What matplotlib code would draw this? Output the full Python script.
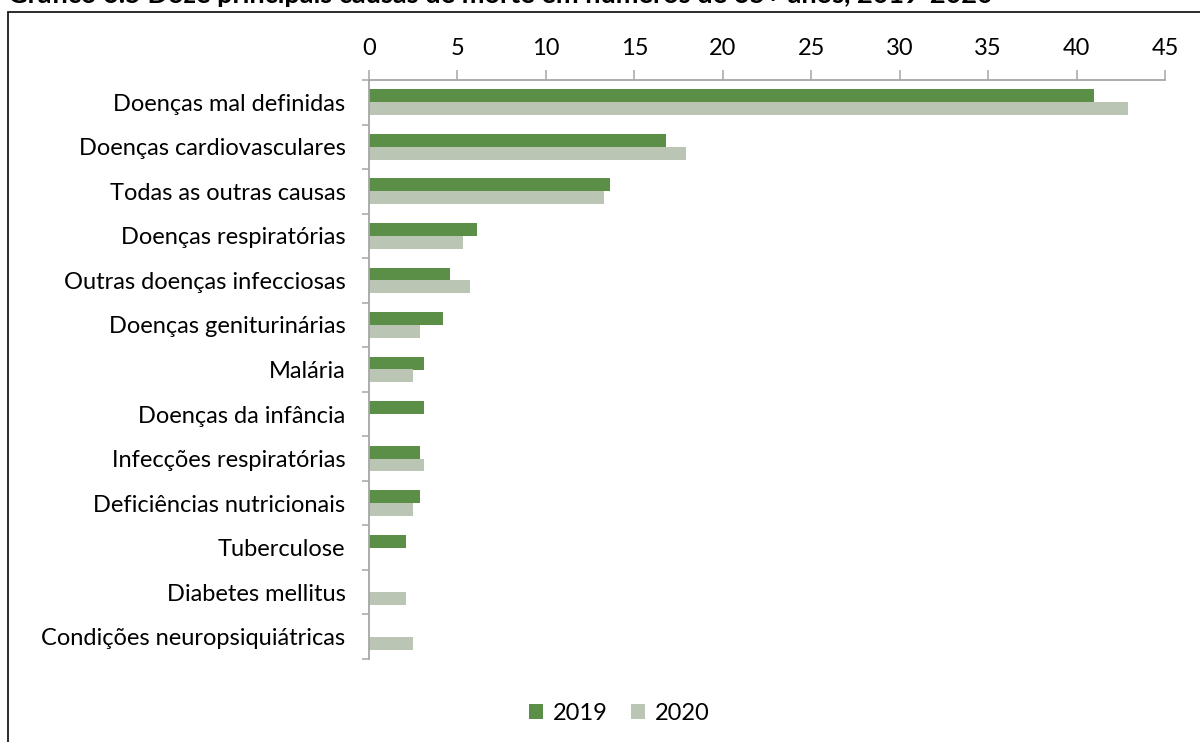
import numpy as np
import matplotlib.pyplot as plt
from matplotlib.patches import Rectangle

plt.rcParams['font.family'] = ['Lato', 'DejaVu Sans']

categories = [
    "Doenças mal definidas",
    "Doenças cardiovasculares",
    "Todas as outras causas",
    "Doenças respiratórias",
    "Outras doenças infecciosas",
    "Doenças geniturinárias",
    "Malária",
    "Doenças da infância",
    "Infecções respiratórias",
    "Deficiências nutricionais",
    "Tuberculose",
    "Diabetes mellitus",
    "Condições neuropsiquiátricas",
]
values_2019 = [41.0, 16.8, 13.6, 6.1, 4.6, 4.2, 3.1, 3.1, 2.9, 2.9, 2.1, None, None]
values_2020 = [42.9, 17.9, 13.3, 5.3, 5.7, 2.9, 2.5, None, 3.1, 2.5, None, 2.1, 2.5]
series_labels = ["2019", "2020"]
x_ticks = [0, 5, 10, 15, 20, 25, 30, 35, 40, 45]
title = "Gráfico 6.5 Doze principais causas de morte em números de 65+ anos, 2019-2020"

green = "#5B8F47"
sage = "#BAC6B3"
axis_grey = "#A6A6A6"
fs = 17

W, H = 1200, 742
fig = plt.figure(figsize=(W / 100, H / 100), dpi=100)

# outer frame (runs off the right and bottom edges)
fig.patches.append(Rectangle((8 / W, -0.05), 1.2, 1 - 12 / H + 0.05,
                             transform=fig.transFigure, fill=False,
                             edgecolor="#1a1a1a", linewidth=1.3))
fig.text(8 / W, 1 - 3 / H, title, fontsize=19.5, fontweight="bold",
         ha="left", va="baseline", color="#000000")

left, right, top, bottom = 369, 1165, 80, 659
ax = fig.add_axes([left / W, 1 - bottom / H, (right - left) / W, (bottom - top) / H])

y = np.arange(len(categories))
h = 0.29

def to_arr(vals):
    return np.array([np.nan if v is None else v for v in vals], dtype=float)

v19 = to_arr(values_2019)
v20 = to_arr(values_2020)
m19 = ~np.isnan(v19)
m20 = ~np.isnan(v20)
ax.barh(y[m19] - h / 2, v19[m19], height=h, color=green, label=series_labels[0])
ax.barh(y[m20] + h / 2, v20[m20], height=h, color=sage, label=series_labels[1])

ax.set_xlim(0, 45)
ax.set_ylim(len(categories) - 0.5, -0.5)

ax.xaxis.tick_top()
ax.set_xticks(x_ticks)
ax.set_xticklabels([str(t) for t in x_ticks])
ax.tick_params(axis="x", direction="out", length=7.2, width=1.1, color=axis_grey,
               labelsize=fs, pad=8, labelcolor="#000000")

ax.set_yticks(y)
ax.set_yticklabels(categories)
ax.set_yticks(np.arange(-0.5, len(categories)), minor=True)
ax.tick_params(axis="y", which="major", length=0, labelsize=fs, pad=17,
               labelcolor="#000000")
ax.tick_params(axis="y", which="minor", direction="out", length=5.2, width=1.1,
               color=axis_grey)

for s in ("right", "bottom"):
    ax.spines[s].set_visible(False)
for s in ("top", "left"):
    ax.spines[s].set_color(axis_grey)
    ax.spines[s].set_linewidth(1.3)

fig.legend(loc="center", bbox_to_anchor=(619 / W, 1 - 713 / H), ncol=2, frameon=False,
           fontsize=fs, handlelength=0.6, handleheight=0.6, handletextpad=0.4,
           columnspacing=1.0)

fig.savefig("out.png", dpi=100)
